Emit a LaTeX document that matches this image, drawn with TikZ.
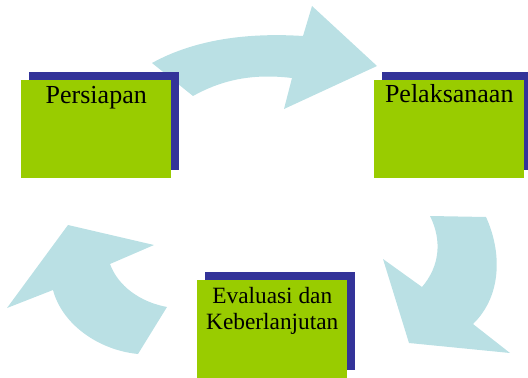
\documentclass[tikz,border=0pt]{standalone}
\usepackage{fontspec}
\setmainfont{Liberation Serif}
\usetikzlibrary{positioning,shadows}

\definecolor{stagegreen}{RGB}{153,204,0}
\definecolor{shadowblue}{RGB}{51,51,153}
\definecolor{arrowblue}{RGB}{186,224,228}

\begin{document}
\begin{tikzpicture}[
    x=0.75pt,y=-0.75pt,
    stage/.style={rectangle,fill=stagegreen,anchor=north west,minimum width=112.5pt,minimum height=73.5pt,inner sep=0pt,
        general shadow={fill=shadowblue,shadow xshift=6pt,shadow yshift=6pt}},
    stagetext/.style={align=center,font=\fontsize{19.5}{22}\selectfont,inner sep=0pt},
    cyclearrow/.style={fill=arrowblue}
]
\useasboundingbox (0,0) rectangle (528,378);

% arrows of the cycle
\fill[cyclearrow] (152,63) .. controls (190,42) and (240,32) .. (303,36) -- (312,6) -- (377,66)
    -- (284,109) -- (292,78) .. controls (250,73) and (220,81) .. (193,96) -- cycle;
\fill[cyclearrow] (430,216) -- (486,217) .. controls (502,252) and (502,296) .. (473,324)
    -- (510,353) -- (409,343) -- (383,259) -- (422,287) .. controls (440,266) and (442,240) .. cycle;
\fill[cyclearrow] (167,307) -- (138,354) .. controls (98,350) and (62,324) .. (53,290)
    -- (7,308) -- (68,225) -- (154,245) -- (110,264) .. controls (118,286) and (140,302) .. cycle;

% stages
\node[stage] (prep) at (21,80) {};
\node[stage] (impl) at (374,80) {};
\node[stage] (eval) at (197,280) {};

\node[stagetext,below=4.5pt of prep.north] {Persiapan};
\node[stagetext,below=3pt of impl.north] {Pelaksanaan};
\node[stagetext,font=\fontsize{17.5}{19.5}\selectfont,below=5pt of eval.north] {Evaluasi dan\\Keberlanjutan};

\end{tikzpicture}
\end{document}
